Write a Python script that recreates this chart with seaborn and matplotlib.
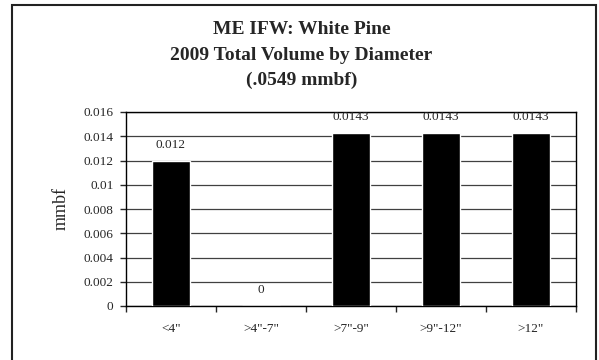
import numpy as np
import pandas as pd
import matplotlib
matplotlib.use("Agg")
import matplotlib.pyplot as plt
import seaborn as sns
from matplotlib.patches import Rectangle


# =========================================================
# DATA
# =========================================================

categories = ['<4"', '>4"-7"', '>7"-9"', '>9"-12"', '>12"']

volumes = [0.012, 0.0, 0.0143, 0.0143, 0.0143]

value_labels = ["0.012", "0", "0.0143", "0.0143", "0.0143"]

y_ticks = [0, 0.002, 0.004, 0.006, 0.008, 0.01, 0.012, 0.014, 0.016]

y_tick_labels = ["0", "0.002", "0.004", "0.006", "0.008",
                 "0.01", "0.012", "0.014", "0.016"]

title_lines = ["ME IFW: White Pine",
               "2009 Total Volume by Diameter",
               "(.0549 mmbf)"]

df = pd.DataFrame({"Diameter": categories, "Volume": volumes})


# =========================================================
# STYLE
# =========================================================

sns.set_style("white")

plt.rcParams["font.family"] = ["Liberation Serif", "DejaVu Serif"]


# =========================================================
# FIGURE
# =========================================================

W, H = 599, 360

fig = plt.figure(figsize=(W / 100, H / 100), dpi=100)

# outer chart border (bottom edge runs off the picture)
fig.patches.append(
    Rectangle(
        (12 / W, -5 / H),
        584 / W,
        360 / H,
        transform=fig.transFigure,
        fill=False,
        edgecolor="#222222",
        linewidth=1.5
    )
)

ax = fig.add_axes([126 / W, 1 - 306 / H, 450 / W, 194 / H])

sns.barplot(
    data=df,
    x="Diameter",
    y="Volume",
    color="black",
    width=0.425,
    saturation=1,
    ax=ax,
    zorder=3
)

for i, (v, lab) in enumerate(zip(volumes, value_labels)):

    ax.annotate(
        lab,
        xy=(i, v),
        xytext=(0, 11.5),
        textcoords="offset points",
        ha="center",
        va="center",
        fontsize=9.5,
        zorder=4
    )

ax.set_ylim(0, 0.016)

ax.set_xlim(-0.5, len(categories) - 0.5)

ax.set_yticks(y_ticks)

ax.set_yticklabels(y_tick_labels, fontsize=9.5)

ax.tick_params(axis="y", left=True, length=4, width=1,
               direction="out", pad=5)

ax.tick_params(axis="x", which="major", length=0, labelsize=9.5, pad=12)

ax.set_xticks(np.arange(-0.5, len(categories)), minor=True)

ax.tick_params(axis="x", which="minor", bottom=True, length=4, width=1,
               direction="out")

ax.yaxis.grid(True, color="#404040", linewidth=0.9, zorder=0)

ax.set_axisbelow(True)

for spine in ax.spines.values():

    spine.set_visible(True)

    spine.set_color("black")

    spine.set_linewidth(1.0)

ax.set_xlabel("")

ax.set_ylabel("mmbf", fontsize=13, labelpad=10)


# =========================================================
# TITLE
# =========================================================

for line, y_px in zip(title_lines, [30, 55, 80]):

    fig.text(
        0.5 + 2 / W,
        1 - y_px / H,
        line,
        ha="center",
        va="center",
        fontsize=14,
        fontweight="bold"
    )

plt.savefig("out.png", dpi=100)

plt.close()
